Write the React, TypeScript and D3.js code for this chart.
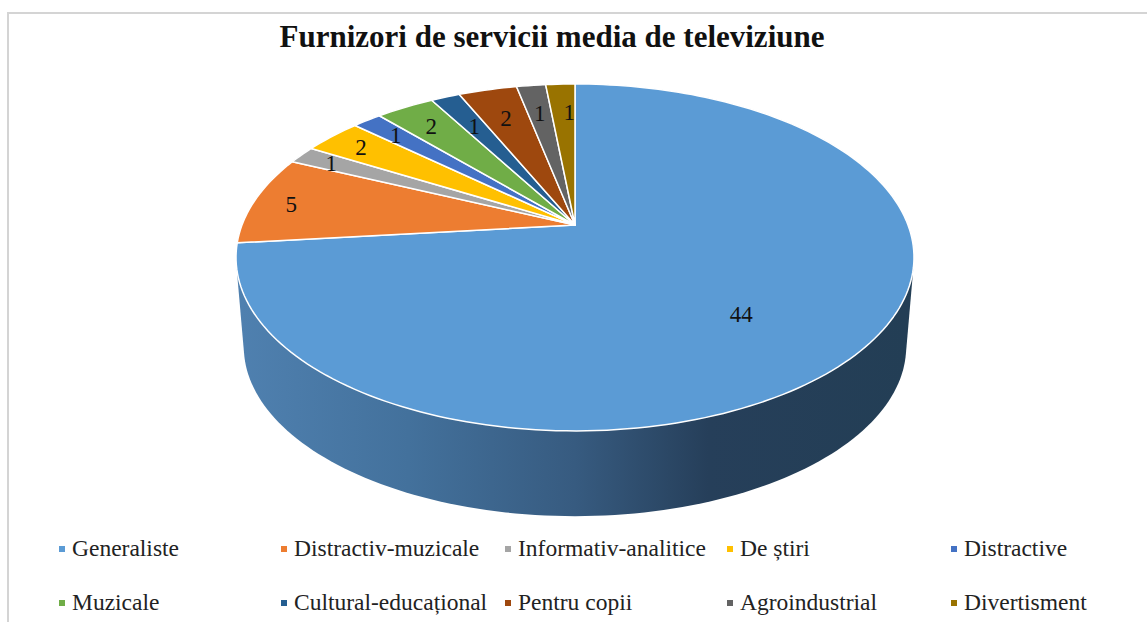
import React, { useEffect, useRef } from 'react';
import * as d3 from 'd3';

const title = 'Furnizori de servicii media de televiziune';
const categories = ['Generaliste', 'Distractiv-muzicale', 'Informativ-analitice', 'De știri', 'Distractive', 'Muzicale', 'Cultural-educațional', 'Pentru copii', 'Agroindustrial', 'Divertisment'];
const values = [44, 5, 1, 2, 1, 2, 1, 2, 1, 1];
const colors = ['#5b9bd5', '#ed7d31', '#a5a5a5', '#ffc000', '#4472c4', '#70ad47', '#255e91', '#9e480e', '#636363', '#997300'];

// label placement, fraction of the radius and a small nudge in px
const labelRadius = [0.62, 0.885, 0.883, 0.87, 0.847, 0.826, 0.75, 0.76, 0.776, 0.77];
const labelNudge = [[0, 14], [0, 2], [0, 0], [0, 0], [0, 0], [0, 0], [0, 0], [0, 0], [0, 0], [6, 0]];

const legendColumns = [59, 281, 505, 727, 951];
const legendRows = [549, 603];

const App = () => {
    const ref = useRef<SVGSVGElement | null>(null);

    useEffect(() => {
        const width = 1147;
        const height = 622;
        const svg = d3.select(ref.current);
        svg.selectAll('*').remove();

        // the pie is seen in perspective, so the centre sits above the middle of the ellipse
        const cx = 575;
        const cy = 225;
        const k = -0.187;
        const radiusX = 333;
        const radiusY = 167.4;

        const project = (angle: number, f = 1, scale = 1, shift = 0): [number, number] => {
            const u = Math.sin(angle) * f;
            const v = -Math.cos(angle) * f;
            const w = 1 + k * v;
            return [cx + (radiusX * scale * u) / w, cy + shift + (radiusY * scale * v) / w];
        };

        const line = d3.line();
        const pie = d3.pie<number>().sort(null).value(d => d);
        const arcs = pie(values);

        const rim = (a0: number, a1: number, scale = 1, shift = 0) =>
            d3.range(0, 1.0001, 1 / Math.max(4, Math.ceil((a1 - a0) * 40))).map(t => project(a0 + (a1 - a0) * t, 1, scale, shift));

        // side wall
        const defs = svg.append('defs');
        const grad = defs.append('linearGradient')
            .attr('id', 'wall')
            .attr('gradientUnits', 'userSpaceOnUse')
            .attr('x1', cx - radiusX)
            .attr('x2', cx + radiusX)
            .attr('y1', 0)
            .attr('y2', 0);
        const stops: [number, string][] = [[0, '#4f80af'], [0.25, '#43719c'], [0.5, '#375b80'], [0.7, '#263f5a'], [1, '#233e55']];
        stops.forEach(s => grad.append('stop').attr('offset', s[0]).attr('stop-color', s[1]));

        const hull = d3.polygonHull([...rim(0, Math.PI * 2), ...rim(0, Math.PI * 2, 0.977, 90)]);
        svg.append('path')
            .attr('d', line(hull as [number, number][]) + 'Z')
            .attr('fill', 'url(#wall)');

        // frame
        svg.append('path')
            .attr('d', `M8,${height}V13H${width}`)
            .attr('fill', 'none')
            .attr('stroke', '#d4d4d4')
            .attr('stroke-width', 2);

        // top face
        svg.selectAll('path.slice')
            .data(arcs)
            .enter()
            .append('path')
            .attr('class', 'slice')
            .attr('d', d => line([[cx, cy], ...rim(d.startAngle, d.endAngle)]) + 'Z')
            .attr('fill', (d, i) => colors[i])
            .attr('stroke', '#fff')
            .attr('stroke-width', 1.5)
            .attr('stroke-linejoin', 'round');

        // data labels
        svg.selectAll('text.value')
            .data(arcs)
            .enter()
            .append('text')
            .attr('class', 'value')
            .attr('x', (d, i) => project((d.startAngle + d.endAngle) / 2, labelRadius[i])[0] + labelNudge[i][0])
            .attr('y', (d, i) => project((d.startAngle + d.endAngle) / 2, labelRadius[i])[1] + labelNudge[i][1] + 8)
            .attr('text-anchor', 'middle')
            .attr('font-family', '"Liberation Serif"')
            .attr('font-size', 23)
            .attr('fill', '#111')
            .text(d => d.data);

        svg.append('text')
            .attr('x', 552)
            .attr('y', 47)
            .attr('text-anchor', 'middle')
            .attr('font-family', '"Liberation Serif"')
            .attr('font-weight', 'bold')
            .attr('font-size', 31)
            .attr('fill', '#111')
            .text(title);

        // legend, two rows of five
        const legend = svg.selectAll('g.legend')
            .data(categories)
            .enter()
            .append('g')
            .attr('class', 'legend')
            .attr('transform', (d, i) => `translate(${legendColumns[i % 5]}, ${legendRows[Math.floor(i / 5)]})`);
        legend.append('rect')
            .attr('x', 0)
            .attr('y', -3)
            .attr('width', 6)
            .attr('height', 6)
            .attr('fill', (d, i) => colors[i]);
        legend.append('text')
            .attr('x', 13)
            .attr('y', 7)
            .attr('font-family', '"Liberation Serif"')
            .attr('font-size', 23.5)
            .attr('fill', '#222')
            .text(d => d);
    }, []);

    return <svg ref={ref} width={1147} height={622} style={{ position: 'absolute', left: 0, top: 0, background: '#fff' }} />;
};

export default App;
